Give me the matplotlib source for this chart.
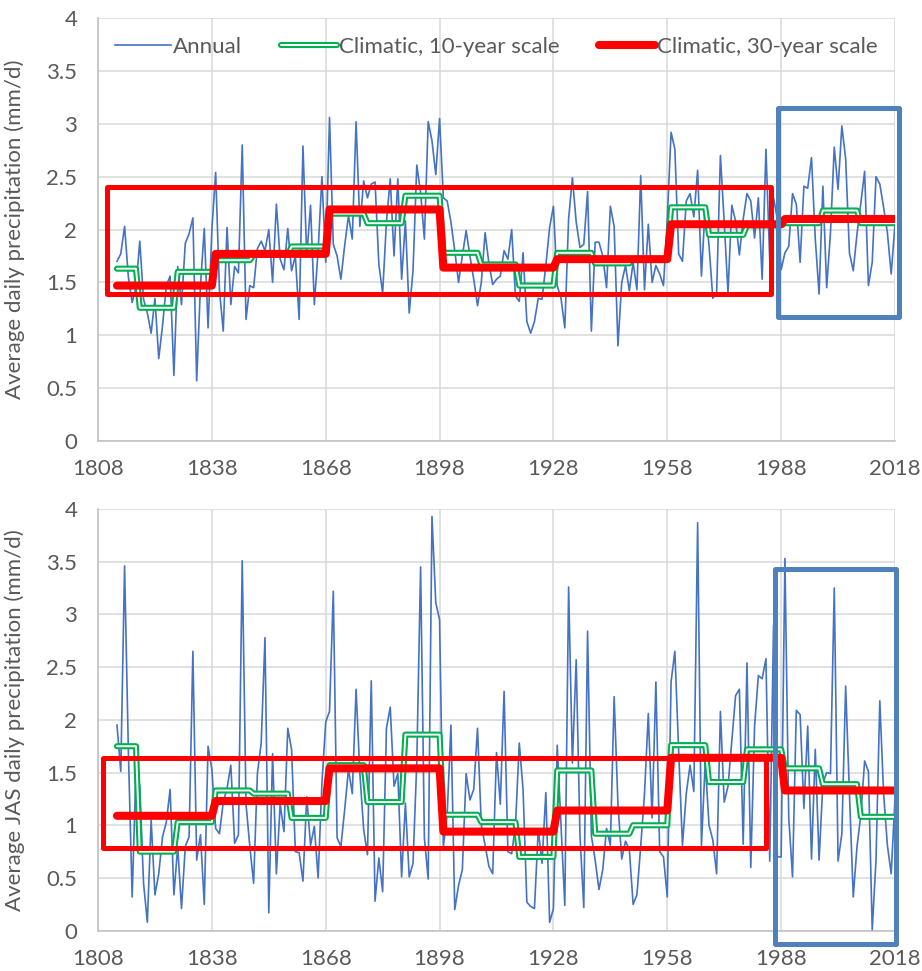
import numpy as np
import matplotlib
matplotlib.use("Agg")
import matplotlib.pyplot as plt
import matplotlib.patheffects as pe
from matplotlib.patches import Rectangle

plt.rcParams['font.family'] = ['Lato', 'DejaVu Sans']

# ---- data ----
first_year, last_year = 1813, 2018
years = np.arange(first_year, last_year + 1)

annual_all = [
    1.70, 1.77, 2.03, 1.55, 1.31, 1.45,
    1.89, 1.34, 1.21, 1.02, 1.35, 0.78, 1.09, 1.47, 1.56, 0.62,
    1.65, 1.29, 1.87, 1.96, 2.11, 0.57, 1.47, 2.01, 1.07, 2.00,
    2.54, 1.43, 1.04, 2.02, 1.29, 1.65, 1.59, 2.80, 1.15, 1.47,
    1.45, 1.82, 1.89, 1.80, 2.00, 1.50, 2.24, 1.72, 1.62, 2.01,
    1.61, 1.75, 1.15, 2.79, 1.75, 2.23, 1.29, 1.80, 2.50, 1.69,
    3.06, 1.86, 1.75, 1.53, 1.85, 2.13, 1.91, 3.02, 2.03, 2.46,
    2.30, 2.43, 2.45, 1.67, 1.40, 2.07, 2.48, 1.75, 2.48, 1.53,
    2.08, 1.21, 1.61, 2.61, 2.35, 1.91, 3.02, 2.84, 2.52, 3.05,
    2.30, 2.27, 2.07, 1.80, 1.50, 1.75, 1.99, 1.75, 1.53, 1.28,
    1.50, 1.97, 1.68, 1.48, 1.53, 1.56, 1.80, 1.72, 2.00, 1.37,
    1.32, 1.78, 1.13, 1.02, 1.13, 1.35, 1.34, 1.66, 2.02, 2.22,
    1.47, 1.35, 1.07, 2.10, 2.49, 2.07, 1.83, 1.86, 2.36, 1.04,
    1.88, 1.88, 1.75, 1.45, 2.22, 2.03, 0.90, 1.50, 1.66, 1.42,
    1.69, 1.43, 2.51, 1.43, 2.05, 1.50, 1.66, 1.58, 1.47, 2.10,
    2.92, 2.76, 1.77, 1.70, 2.27, 2.34, 2.12, 2.56, 1.56, 2.22,
    1.85, 1.35, 1.40, 2.70, 2.07, 1.40, 2.23, 2.08, 1.76, 2.10,
    2.34, 2.27, 1.92, 2.30, 1.53, 2.76, 1.71, 2.30, 2.10, 1.62,
    1.78, 1.84, 2.34, 2.24, 1.69, 2.41, 2.39, 2.68, 1.91, 1.39,
    2.41, 1.45, 1.97, 2.78, 2.38, 2.98, 2.67, 1.78, 1.61, 1.96,
    2.25, 2.55, 1.47, 1.69, 2.50, 2.43, 2.21, 1.97, 1.58, 2.05,
]
decadal_all = [1.63, 1.26, 1.60, 1.71, 1.76, 1.84, 2.15, 2.06, 2.32, 1.78, 1.67,
               1.47, 1.78, 1.68, 1.72, 2.21, 1.95, 2.04, 2.06, 2.18, 2.06]
climatic_all = [1.47, 1.77, 2.19, 1.64, 1.72, 2.05, 2.10]

annual_jas = [
    1.95, 1.51, 3.46, 1.70, 0.32, 1.53,
    1.37, 0.45, 0.08, 1.05, 0.34, 0.54, 0.89, 1.03, 1.34, 0.34,
    0.80, 0.21, 0.80, 0.89, 2.65, 0.67, 0.91, 0.25, 1.75, 1.53,
    0.97, 0.92, 1.22, 1.35, 1.57, 0.83, 0.91, 3.51, 1.20, 0.80,
    0.45, 1.49, 1.78, 2.78, 0.17, 1.68, 0.54, 1.20, 0.94, 1.92,
    1.72, 0.75, 0.74, 0.47, 1.27, 0.81, 0.99, 0.50, 1.40, 1.98,
    2.08, 3.22, 0.88, 0.80, 1.15, 1.53, 1.30, 2.29, 1.49, 0.96,
    0.72, 2.37, 0.28, 0.69, 0.37, 1.92, 2.12, 1.37, 1.49, 0.51,
    1.21, 0.51, 0.64, 1.60, 3.45, 0.88, 0.49, 3.93, 3.11, 2.95,
    0.80, 1.10, 1.95, 0.20, 0.43, 0.58, 1.49, 1.24, 1.34, 1.92,
    1.00, 0.81, 0.61, 0.54, 1.69, 1.20, 2.27, 0.75, 0.73, 1.00,
    1.78, 1.34, 0.27, 0.23, 0.21, 0.96, 0.64, 1.31, 0.08, 0.21,
    1.76, 1.00, 0.24, 3.26, 1.59, 2.57, 0.90, 0.22, 2.84, 0.90,
    0.67, 0.39, 0.58, 0.97, 0.81, 2.22, 1.20, 0.68, 0.85, 0.77,
    0.25, 0.34, 0.80, 1.30, 2.06, 1.07, 2.36, 0.75, 0.70, 0.32,
    2.36, 2.65, 1.70, 0.81, 1.30, 1.57, 1.32, 3.87, 0.81, 1.60,
    1.00, 0.86, 0.54, 2.08, 1.22, 1.37, 1.80, 2.23, 2.29, 0.82,
    2.54, 0.60, 1.94, 2.42, 2.39, 2.58, 0.66, 2.90, 0.70, 0.70,
    3.53, 1.08, 0.51, 2.09, 2.05, 1.16, 1.94, 0.68, 1.72, 0.67,
    1.40, 1.50, 1.49, 3.25, 0.66, 0.92, 2.32, 1.30, 0.32, 0.80,
    1.10, 1.61, 1.51, 0.01, 0.67, 2.18, 1.30, 0.81, 0.54, 1.25,
]
decadal_jas = [1.75, 0.75, 1.03, 1.33, 1.30, 1.07, 1.57, 1.22, 1.86, 1.10, 1.03,
               0.70, 1.52, 0.92, 1.00, 1.76, 1.41, 1.72, 1.54, 1.39, 1.08]
climatic_jas = [1.09, 1.23, 1.54, 0.94, 1.14, 1.64, 1.33]

# period start years (first period is partial)
decade_starts = [1813] + list(range(1819, 2019, 10))
climate_starts = [1813] + list(range(1839, 2019, 30))

# highlight boxes: (x0, x1, y0, y1)
red_box_all = (1810.4, 1985.4, 1.39, 2.40)
blue_box_all = (1987.3, 2019.1, 1.17, 3.15)
red_box_jas = (1809.3, 1984.0, 0.78, 1.64)
blue_box_jas = (1986.5, 2018.2, -0.13, 3.43)

ylabels = ["Average daily precipitation (mm/d)",
           "Average JAS daily precipitation (mm/d)"]

BLUE = '#4472C4'
GREEN = '#00B050'
RED = '#FF0000'
BOX_BLUE = '#4F81BD'
TXT = '#595959'
FS = 16


def expand(values, starts):
    lengths = np.diff(list(starts) + [last_year + 1])
    return np.repeat(values, lengths)


def draw_panel(ax, annual, decadal, climatic, red_box, blue_box, ylabel, legend):
    ax.plot(years, annual, color=BLUE, lw=1.2, label='Annual', zorder=3)
    ax.plot(years, expand(decadal, decade_starts), color='white', lw=1.4,
            solid_capstyle='round', solid_joinstyle='round', zorder=4,
            path_effects=[pe.Stroke(linewidth=4.4, foreground=GREEN), pe.Normal()],
            label='Climatic, 10-year scale')
    ax.plot(years, expand(climatic, climate_starts), color=RED, lw=5.8,
            solid_capstyle='round', solid_joinstyle='round', zorder=5,
            label='Climatic, 30-year scale')

    for box, col in [(red_box, RED), (blue_box, BOX_BLUE)]:
        x0, x1, y0, y1 = box
        ax.add_patch(Rectangle((x0, y0), x1 - x0, y1 - y0, fill=False,
                               edgecolor=col, lw=3.6, joinstyle='round',
                               clip_on=False, zorder=6))

    ax.set_xlim(1808, 2018)
    ax.set_ylim(0, 4)
    ax.set_xticks(np.arange(1808, 2019, 30))
    ax.set_yticks(np.arange(0, 4.01, 0.5))
    ax.set_yticklabels([f"{v:g}" for v in np.arange(0, 4.01, 0.5)])
    ax.grid(True, color='#D9D9D9', lw=1.1)
    ax.set_axisbelow(True)
    for s in ['top', 'right']:
        ax.spines[s].set_visible(False)
    for s in ['left', 'bottom']:
        ax.spines[s].set_color('#BFBFBF')
        ax.spines[s].set_linewidth(1.1)
    ax.tick_params(axis='x', length=0, pad=13, labelsize=FS, labelcolor=TXT)
    ax.tick_params(axis='y', length=0, pad=15, labelsize=FS, labelcolor=TXT)
    ax.set_ylabel(ylabel, fontsize=FS, color=TXT)
    ax.yaxis.set_label_coords(-0.0916, 0.5)

    if legend:
        ax.legend(loc='center', bbox_to_anchor=(0.5, 0.931), ncol=3, frameon=False,
                  fontsize=FS, handlelength=2.5, handletextpad=0.12,
                  columnspacing=1.75, labelcolor=TXT)


fig = plt.figure(figsize=(9.22, 9.71), dpi=100)
ax1 = fig.add_axes([0.1063, 0.5458, 0.8644, 0.4356])
ax2 = fig.add_axes([0.1063, 0.0415, 0.8644, 0.4343])

draw_panel(ax1, annual_all, decadal_all, climatic_all, red_box_all, blue_box_all,
           ylabels[0], True)
draw_panel(ax2, annual_jas, decadal_jas, climatic_jas, red_box_jas, blue_box_jas,
           ylabels[1], False)

fig.savefig('out.png', dpi=100)
